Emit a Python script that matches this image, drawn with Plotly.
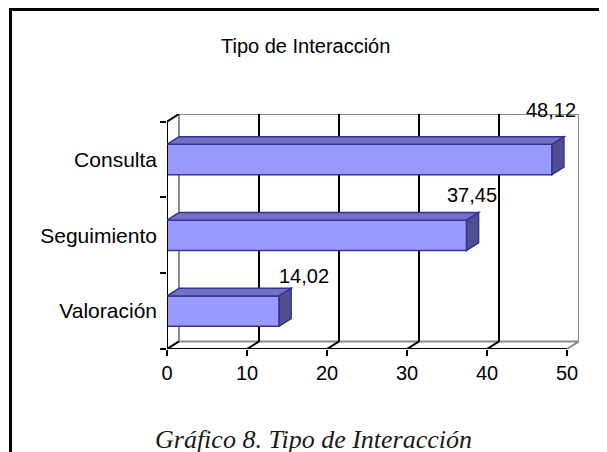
import plotly.graph_objects as go

categories = ["Valoración", "Seguimiento", "Consulta"]
values = [14.02, 37.45, 48.12]
value_labels = ["14,02", "37,45", "48,12"]
x_ticks = [0, 10, 20, 30, 40, 50]

# the page body adds an 8px margin, so the figure is drawn 8px smaller/offset
W, H = 599, 444
FRONT = "#9999FF"
TOP = "#7272C2"
SIDE = "#4F4F8F"
EDGE = "#333399"
DX, DY = 1.5, 0.1      # 3d depth offset in data units
HALF = 0.2             # half bar thickness

fig = go.Figure()

fig.add_trace(go.Bar(
    x=values, y=categories, orientation="h", width=2 * HALF,
    marker=dict(color=FRONT, line=dict(color=EDGE, width=1.5)),
    hoverinfo="skip", showlegend=False,
))

shapes = []
gray = "#8C8C8C"
ymin, ymax = -0.5, len(categories) - 0.5
xmax = x_ticks[-1]

# back wall + floor frame
shapes.append(dict(type="line", x0=DX, x1=DX, y0=ymin + DY, y1=ymax + DY, line=dict(color=gray, width=2), layer="below"))
shapes.append(dict(type="line", x0=xmax + DX, x1=xmax + DX, y0=ymin + DY, y1=ymax + DY, line=dict(color=gray, width=2), layer="below"))
shapes.append(dict(type="line", x0=DX, x1=xmax + DX, y0=ymax + DY, y1=ymax + DY, line=dict(color=gray, width=2), layer="below"))
shapes.append(dict(type="line", x0=DX, x1=xmax + DX, y0=ymin + DY, y1=ymin + DY, line=dict(color=gray, width=2), layer="below"))
# gridlines on back wall
for v in x_ticks[1:-1]:
    shapes.append(dict(type="line", x0=v + DX, x1=v + DX, y0=ymin + DY, y1=ymax + DY,
                       line=dict(color="black", width=2), layer="below"))
# floor diagonals
for v in x_ticks:
    shapes.append(dict(type="line", x0=v, x1=v + DX, y0=ymin, y1=ymin + DY,
                       line=dict(color=gray if v == xmax else "black", width=2), layer="below"))
shapes.append(dict(type="line", x0=0, x1=DX, y0=ymax, y1=ymax + DY, line=dict(color="black", width=2), layer="below"))
# front axes
shapes.append(dict(type="line", x0=0, x1=xmax, y0=ymin, y1=ymin, line=dict(color="black", width=2)))
shapes.append(dict(type="line", x0=0, x1=0, y0=ymin, y1=ymax, line=dict(color="black", width=2)))

# 3d faces of bars
for i, v in enumerate(values):
    top = f"M 0,{i + HALF} L {v},{i + HALF} L {v + DX},{i + HALF + DY} L {DX},{i + HALF + DY} Z"
    side = f"M {v},{i - HALF} L {v},{i + HALF} L {v + DX},{i + HALF + DY} L {v + DX},{i - HALF + DY} Z"
    shapes.append(dict(type="path", path=top, fillcolor=TOP, line=dict(color=EDGE, width=1.5), layer="above"))
    shapes.append(dict(type="path", path=side, fillcolor=SIDE, line=dict(color=EDGE, width=1.5), layer="above"))

# outer frame
shapes.append(dict(type="rect", xref="paper", yref="paper", x0=2.5 / W, x1=1.1,
                   y0=-0.1, y1=1 - 1.5 / H, line=dict(color="black", width=3)))

annotations = []
label_shift = [(25, 35), (5, 40), (-1, 49)]
for i, (v, t) in enumerate(zip(values, value_labels)):
    annotations.append(dict(x=v, y=i, text=t, showarrow=False, xshift=label_shift[i][0],
                            yshift=label_shift[i][1], font=dict(size=20, color="black")))

annotations.append(dict(x=297 / W, y=1 - 38 / H, xref="paper", yref="paper", text="Tipo de Interacción",
                        xanchor="center", yanchor="middle", showarrow=False,
                        font=dict(size=20, color="black")))
annotations.append(dict(x=305 / W, y=1 - 431 / H, xref="paper", yref="paper",
                        text="<i>Gráfico 8. Tipo de Interacción</i>", showarrow=False,
                        xanchor="center", yanchor="middle",
                        font=dict(size=26, color="#1a1a1a", family="Liberation Serif")))

fig.update_layout(
    width=W, height=H,
    margin=dict(l=0, r=0, t=0, b=0),
    paper_bgcolor="white", plot_bgcolor="rgba(0,0,0,0)",
    font=dict(family="Liberation Sans, Arial", size=20, color="black"),
    shapes=shapes, annotations=annotations,
    xaxis=dict(domain=[159 / W, 571 / W], range=[0, xmax + DX], tickvals=x_ticks,
               showgrid=False, zeroline=False, showline=False, automargin=False,
               ticks="outside", ticklen=6, tickwidth=2, tickcolor="black",
               tickfont=dict(size=20)),
    yaxis=dict(domain=[1 - 341 / H, 1 - 106 / H], range=[ymin, ymax + DY], type="category",
               categoryorder="array", categoryarray=categories, tickson="boundaries",
               showgrid=False, zeroline=False, showline=False, automargin=False,
               ticks="outside", ticklen=6, tickwidth=2, tickcolor="black",
               ticklabelstandoff=9, tickfont=dict(size=21)),
)

fig.write_html("out.html")
